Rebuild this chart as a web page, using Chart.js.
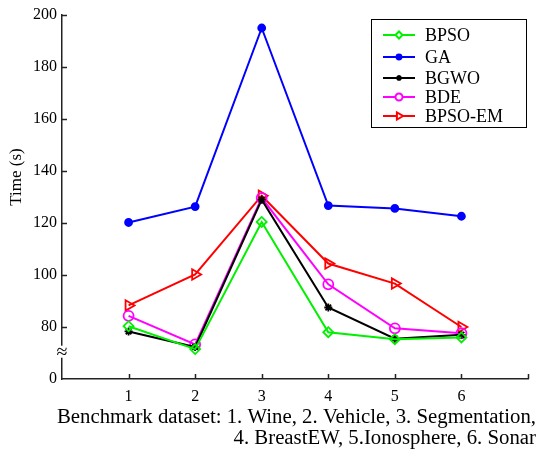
<!DOCTYPE html>
<html>
<head>
<meta charset="utf-8">
<script src="https://cdn.jsdelivr.net/npm/chart.js@4/dist/chart.umd.min.js"></script>
<style>
  html, body { margin: 0; padding: 0; background: #fff; }
  #wrap { width: 538px; height: 454px; }
</style>
</head>
<body>
<div id="wrap"><canvas id="myChart" width="538" height="454"></canvas></div>
<script>
// benchmark datasets 1..6
const datasetIds = [1, 2, 3, 4, 5, 6];
const bpso   = [80.3, 71.5, 120.4, 78.0, 75.3, 76.0];
const ga     = [120.2, 126.3, 195.0, 126.7, 125.6, 122.6];
const bgwo   = [78.3, 72.3, 129.0, 87.5, 75.5, 77.0];
const bde    = [84.3, 73.3, 129.6, 96.4, 79.5, 77.6];
const bpsoEm = [88.3, 100.2, 130.5, 104.4, 96.7, 80.0];
// y axis is broken: the bottom tick (60) is shown as 0
const yTicks = [60, 80, 100, 120, 140, 160, 180, 200];
const yTickLabels = ['0', '80', '100', '120', '140', '160', '180', '200'];
const xTitle = ['Benchmark dataset: 1. Wine, 2. Vehicle, 3. Segmentation,',
                '4. BreastEW, 5.Ionosphere, 6. Sonar'];
const yTitle = 'Time (s)';

const FONT = '"Liberation Serif", "Times New Roman", serif';

const series = [
  { label: 'BPSO',    data: bpso,   color: '#00f000', style: 'rectRot', radius: 5,   fill: false, rot: 0 },
  { label: 'GA',      data: ga,     color: '#0000ff', style: 'circle',  radius: 3.5, fill: true,  rot: 0 },
  { label: 'BGWO',    data: bgwo,   color: '#000000', style: 'star',    radius: 4,   fill: false, rot: 0 },
  { label: 'BDE',     data: bde,    color: '#ff00ff', style: 'circle',  radius: 5,   fill: false, rot: 0 },
  { label: 'BPSO-EM', data: bpsoEm, color: '#ff0000', style: 'triangle', radius: 6,  fill: false, rot: 90 }
];

const decor = {
  id: 'decor',
  afterDraw(chart) {
    const ctx = chart.ctx;
    const xs = chart.scales.x, ys = chart.scales.y;
    const area = chart.chartArea;
    ctx.save();
    // inner ticks
    ctx.strokeStyle = '#222';
    ctx.lineWidth = 1.5;
    ctx.beginPath();
    for (let v = 1; v <= 7; v++) {
      const px = Math.round(xs.getPixelForValue(v)) + 0.5;
      ctx.moveTo(px, area.bottom);
      ctx.lineTo(px, area.bottom - 5);
    }
    yTicks.forEach(v => {
      if (v === 60) return;
      const py = Math.round(ys.getPixelForValue(v)) + 0.5;
      ctx.moveTo(area.left, py);
      ctx.lineTo(area.left + 5, py);
    });
    ctx.stroke();

    // axis break mark
    const by = ys.getPixelForValue(70.5);
    ctx.fillStyle = '#fff';
    ctx.fillRect(area.left - 5, by - 6, 10, 12);
    ctx.fillStyle = '#000';
    ctx.font = '20px ' + FONT;
    ctx.textAlign = 'center';
    ctx.textBaseline = 'middle';
    ctx.fillText('\u2248', area.left, by + 1);

    // y title
    ctx.save();
    ctx.translate(17, 177);
    ctx.rotate(-Math.PI / 2);
    ctx.font = '17px ' + FONT;
    ctx.fillText(yTitle, 0, 0);
    ctx.restore();

    // x title, right aligned lines
    ctx.font = '20.8px ' + FONT;
    ctx.textAlign = 'right';
    ctx.textBaseline = 'alphabetic';
    ctx.fillText(xTitle[0], 536, 423);
    ctx.fillText(xTitle[1], 536, 444);

    // legend
    const lx = 371, ly = 19, lw = 155, lh = 108;
    ctx.fillStyle = '#fff';
    ctx.fillRect(lx, ly, lw, lh);
    ctx.strokeStyle = '#000';
    ctx.lineWidth = 1;
    ctx.strokeRect(lx + 0.5, ly + 0.5, lw, lh);
    const rows = [35, 57, 78, 97, 116];
    ctx.font = '18px ' + FONT;
    ctx.textAlign = 'left';
    ctx.textBaseline = 'middle';
    series.forEach((s, i) => {
      const y = rows[i];
      ctx.strokeStyle = s.color;
      ctx.lineWidth = 2;
      ctx.beginPath();
      ctx.moveTo(383, y);
      ctx.lineTo(415, y);
      ctx.stroke();
      ctx.fillStyle = s.fill ? s.color : '#fff';
      Chart.helpers.drawPoint(ctx, {
        pointStyle: s.style, radius: s.radius * 0.7, rotation: s.rot, borderWidth: 1.5
      }, 399, y);
      if (s.fill) ctx.fill();
      ctx.fillStyle = '#000';
      ctx.fillText(s.label, 425, y + 1);
    });
    ctx.restore();
  }
};

new Chart(document.getElementById('myChart').getContext('2d'), {
  type: 'line',
  data: {
    datasets: series.map(s => ({
      label: s.label,
      data: datasetIds.map((d, i) => ({ x: d, y: s.data[i] })),
      borderColor: s.color,
      backgroundColor: s.fill ? s.color : 'rgba(0,0,0,0)',
      borderWidth: 2,
      pointStyle: s.style,
      pointRadius: s.radius,
      pointRotation: s.rot,
      pointBorderWidth: 1.8,
      pointBackgroundColor: s.fill ? s.color : 'rgba(0,0,0,0)',
      tension: 0
    }))
  },
  options: {
    responsive: false,
    animation: false,
    layout: { padding: { left: 0, right: 10, top: 15, bottom: 0 } },
    plugins: { legend: { display: false }, tooltip: { enabled: false } },
    scales: {
      x: {
        type: 'linear', min: 0, max: 7,
        afterFit: s => { s.height = 75; },
        border: { display: true, color: '#222', width: 1.5 },
        grid: { display: false, drawTicks: false, tickLength: 0 },
        ticks: {
          stepSize: 1, padding: 8, color: '#000',
          font: { family: FONT, size: 16 },
          callback: v => (v >= 1 && v <= 6) ? String(v) : ''
        }
      },
      y: {
        min: 60, max: 200,
        afterFit: s => { s.width = 62; },
        afterBuildTicks: s => { s.ticks = yTicks.map(v => ({ value: v })); },
        border: { display: true, color: '#222', width: 1.5 },
        grid: { display: false, drawTicks: false, tickLength: 0 },
        ticks: {
          padding: 5, color: '#000',
          font: { family: FONT, size: 16 },
          callback: v => yTickLabels[yTicks.indexOf(v)]
        }
      }
    }
  },
  plugins: [decor]
});
</script>
</body>
</html>
